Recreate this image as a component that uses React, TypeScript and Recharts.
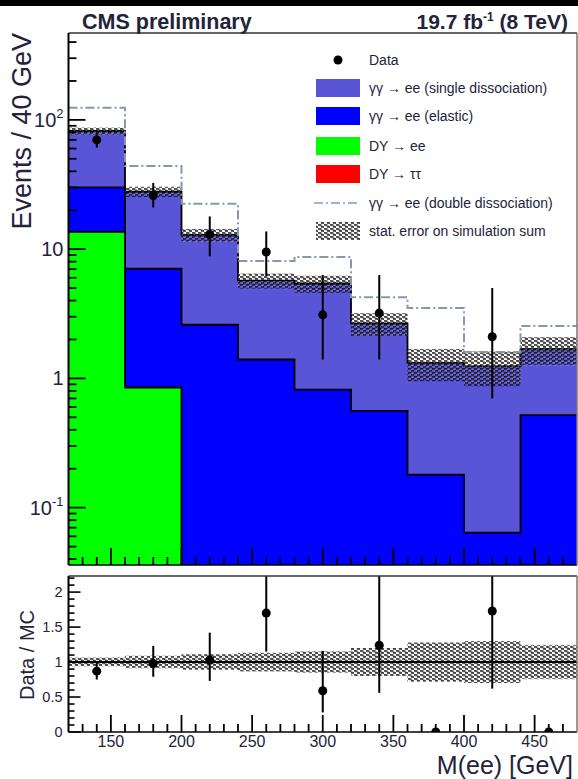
import {
  ComposedChart,
  Area,
  Line,
  Scatter,
  XAxis,
  YAxis,
  ErrorBar,
  ReferenceLine,
} from "recharts";

// bins of 40 GeV in M(ee)
const binEdges = [120, 160, 200, 240, 280, 320, 360, 400, 440, 480];
const binCenters = [140, 180, 220, 260, 300, 340, 380, 420, 460];

// simulated contributions, events / 40 GeV
const dyTauTau = [0, 0, 0, 0, 0, 0, 0, 0, 0];
const dyEE = [13.6, 0.85, 0, 0, 0, 0, 0, 0, 0];
const elastic = [16.4, 6.2, 2.6, 1.4, 0.82, 0.56, 0.18, 0.064, 0.52];
const singleDiss = [52, 20.8, 10.3, 4.3, 4.6, 2.1, 1.14, 1.18, 1.16];
// sum incl. double dissociation (dash-dot line)
const withDoubleDiss = [124, 44, 22.4, 8.1, 8.7, 4.25, 3.5, 1.6, 2.54];
// relative stat. error on simulation sum
const mcStatRel = [0.06, 0.09, 0.11, 0.13, 0.15, 0.2, 0.28, 0.3, 0.24];
const mcStatRelAlt = [0.07, 0.07, 0.12, 0.14, 0.15, 0.2, 0.27, 0.27, 0.25];

// observed data
const dataCounts = [70, 26, 13, 9.5, 3.1, 3.2, 0, 2.1, 0];
const dataErrDown = [9, 5, 4.2, 3.3, 1.7, 1.8, 0, 1.4, 0];
const dataErrUp = [9, 6.5, 4.9, 4.2, 3.2, 3.1, 0, 2.9, 0];

// data / MC (upper errors only as far as the frame shows them)
const ratio = [0.87, 0.98, 1.03, 1.7, 0.59, 1.24, 0, 1.73, 0];
const ratioErrDown = [0.12, 0.19, 0.3, 0.55, 0.31, 0.68, 0, 1.11, 0];
const ratioErrUp = [0.14, 0.25, 0.39, 0.53, 0.57, 0.99, 0, 0.5, 0];

// axis ticks
const xTicks = [130, 140, 150, 160, 170, 180, 190, 200, 210, 220, 230, 240, 250, 260, 270, 280, 290, 300, 310, 320, 330, 340, 350, 360, 370, 380, 390, 400, 410, 420, 430, 440, 450, 460, 470];
const yTicksLog = [0.04, 0.05, 0.06, 0.07, 0.08, 0.09, 0.1, 0.2, 0.3, 0.4, 0.5, 0.6, 0.7, 0.8, 0.9, 1, 2, 3, 4, 5, 6, 7, 8, 9, 10, 20, 30, 40, 50, 60, 70, 80, 90, 100, 200, 300, 400];
const yMajorLog = [0.1, 1, 10, 100];
const yTicksRatio = [0, 0.1, 0.2, 0.3, 0.4, 0.5, 0.6, 0.7, 0.8, 0.9, 1, 1.1, 1.2, 1.3, 1.4, 1.5, 1.6, 1.7, 1.8, 1.9, 2, 2.1, 2.2];
const yMajorRatio = [0, 0.5, 1, 1.5, 2];

const X_DOMAIN = [120, 480];
const LOG_DOMAIN = [0.036, 470];
const RATIO_DOMAIN = [0, 2.23];

const FONT = '"Liberation Sans", Arial, Helvetica, sans-serif';
const TXT = "#23233a";
const PURPLE = "#5a54d6";
const DD_LINE = "#8797b0";
const EMPTY = 1e-4; // empty bin (log axis cannot show 0)

const histRows = binEdges.map((x, k) => {
  const i = Math.min(k, binCenters.length - 1);
  const tt = dyTauTau[i];
  const ee = tt + dyEE[i];
  const el = ee + elastic[i];
  const tot = el + singleDiss[i];
  return {
    x,
    red: tt > 0 ? tt : EMPTY,
    green: ee > 0 ? ee : EMPTY,
    blue: el,
    total: tot,
    dd: withDoubleDiss[i],
    band: [tot * (1 - mcStatRel[i]), tot * (1 + mcStatRel[i])],
    bandAlt: [tot * (1 - mcStatRelAlt[i]), tot * (1 + mcStatRelAlt[i])],
    rBand: [1 - mcStatRel[i], 1 + mcStatRel[i]],
    rBandAlt: [1 - mcStatRelAlt[i], 1 + mcStatRelAlt[i]],
  };
});

const dataPoints = binCenters
  .map((x, i) => ({ x, y: dataCounts[i], err: [dataErrDown[i], dataErrUp[i]] }))
  .filter((p) => p.y > 0);

const ratioPoints = binCenters.map((x, i) => ({
  x,
  y: ratio[i],
  err: [ratioErrDown[i], ratioErrUp[i]],
}));

function XTick(props: any) {
  const { x, y, payload, showLabel } = props;
  const v = payload.value;
  const major = v % 50 === 0;
  return (
    <g>
      <line x1={x} x2={x} y1={y} y2={y - (major ? 17 : 8)} stroke="#000" strokeWidth={1.8} />
      {showLabel && major && (
        <text x={x} y={y + 15} textAnchor="middle" fontSize={16} fill={TXT} fontFamily={FONT}>
          {v}
        </text>
      )}
    </g>
  );
}

function LogYTick(props: any) {
  const { x, y, payload } = props;
  const v = payload.value;
  const major = yMajorLog.includes(v);
  let label: any = null;
  if (v === 100)
    label = (
      <>
        10<tspan dy={-9} fontSize={13}>2</tspan>
      </>
    );
  else if (v === 10) label = "10";
  else if (v === 1) label = "1";
  else if (v === 0.1)
    label = (
      <>
        10<tspan dy={-9} fontSize={13}>-1</tspan>
      </>
    );
  return (
    <g>
      <line x1={x} x2={x + (major ? 17 : 8)} y1={y} y2={y} stroke="#000" strokeWidth={1.8} />
      {major && (
        <text x={x - 5} y={y + 7} textAnchor="end" fontSize={20} fill={TXT} fontFamily={FONT}>
          {label}
        </text>
      )}
    </g>
  );
}

function RatioYTick(props: any) {
  const { x, y, payload } = props;
  const v = payload.value;
  const major = yMajorRatio.includes(v);
  return (
    <g>
      <line x1={x} x2={x + (major ? 12 : 6)} y1={y} y2={y} stroke="#000" strokeWidth={1.6} />
      {major && (
        <text x={x - 6} y={y + 5} textAnchor="end" fontSize={14.5} fill={TXT} fontFamily={FONT}>
          {v}
        </text>
      )}
    </g>
  );
}

function Hatches({ prefix }: { prefix: string }) {
  return (
    <defs>
      <pattern id={`${prefix}-black`} width="6" height="4" patternUnits="userSpaceOnUse">
        <rect x="0" y="0.3" width="3.4" height="1.3" fill="#000" />
        <rect x="3" y="2.3" width="3.4" height="1.3" fill="#000" />
      </pattern>
      <pattern id={`${prefix}-gray`} width="6" height="4" patternUnits="userSpaceOnUse">
        <rect x="1.5" y="1.3" width="3.4" height="1.2" fill="#a8a8a8" />
        <rect x="4.5" y="3.3" width="3.4" height="1.2" fill="#a8a8a8" />
      </pattern>
    </defs>
  );
}

const legendRows = [
  { kind: "box", color: PURPLE, label: "γγ → ee (single dissociation)", y: 88 },
  { kind: "box", color: "#0000ff", label: "γγ → ee (elastic)", y: 116 },
  { kind: "box", color: "#00ff00", label: "DY → ee", y: 146 },
  { kind: "box", color: "#ff0000", label: "DY → ττ", y: 174 },
  { kind: "line", color: "#9fb2de", label: "γγ → ee (double dissociation)", y: 203 },
  { kind: "hatch", color: "", label: "stat. error on simulation sum", y: 231 },
];

// frame + ticks, drawn in a transparent chart laid over the histograms (ROOT draws axes on top)
function frameAxes(yTicks: number[], yDomain: number[], logScale: boolean, YTickComp: any, showXLabels: boolean) {
  return [
    <XAxis
      key="xb"
      dataKey="x"
      type="number"
      domain={X_DOMAIN}
      allowDataOverflow
      ticks={xTicks}
      interval={0}
      height={1}
      tickSize={0}
      tickMargin={0}
      tickLine={false}
      tick={<XTick showLabel={showXLabels} />}
      axisLine={{ stroke: "#000", strokeWidth: 1.6 }}
    />,
    <XAxis key="xt" xAxisId="top" orientation="top" type="number" domain={X_DOMAIN} height={1} tick={false} tickLine={false} axisLine={{ stroke: "#333", strokeWidth: 1.6 }} />,
    <YAxis
      key="yl"
      type="number"
      scale={logScale ? "log" : "auto"}
      domain={yDomain}
      allowDataOverflow
      ticks={yTicks}
      interval={0}
      width={1}
      tickSize={0}
      tickMargin={0}
      tickLine={false}
      tick={<YTickComp />}
      axisLine={{ stroke: "#000", strokeWidth: 2 }}
    />,
    <YAxis key="yr" yAxisId="right" orientation="right" type="number" domain={[0, 1]} width={1} tick={false} tickLine={false} axisLine={{ stroke: "#777", strokeWidth: 1.5 }} />,
  ];
}

const layer = (top: number, z: number) => ({ position: "absolute" as const, left: 0, top, zIndex: z });

export default function App() {
  return (
    <div
      style={{
        position: "fixed",
        left: 0,
        top: 0,
        width: 578,
        height: 779,
        overflow: "hidden",
        background: "#fff",
        fontFamily: FONT,
      }}
    >
      {/* upper panel: stacked histograms */}
      <div style={layer(0, 1)}>
        <ComposedChart width={590} height={570} data={histRows} margin={{ top: 33, right: 13, bottom: 5, left: 68.5 }}>
          <Hatches prefix="up" />
          <Area type="stepAfter" dataKey="total" baseValue="dataMin" fill={PURPLE} fillOpacity={1} stroke="#000" strokeWidth={1.8} dot={false} activeDot={false} isAnimationActive={false} />
          <Area type="stepAfter" dataKey="blue" baseValue="dataMin" fill="#0000ff" fillOpacity={1} stroke="#000" strokeWidth={1.8} dot={false} activeDot={false} isAnimationActive={false} />
          <Area type="stepAfter" dataKey="green" baseValue="dataMin" fill="#00ff00" fillOpacity={1} stroke="#000" strokeWidth={1.8} dot={false} activeDot={false} isAnimationActive={false} />
          <Area type="stepAfter" dataKey="red" baseValue="dataMin" fill="#ff0000" fillOpacity={1} stroke="#000" strokeWidth={1.8} dot={false} activeDot={false} isAnimationActive={false} />
          <Area type="stepAfter" dataKey="bandAlt" fill="url(#up-gray)" fillOpacity={1} stroke="none" dot={false} activeDot={false} isAnimationActive={false} />
          <Area type="stepAfter" dataKey="band" fill="url(#up-black)" fillOpacity={1} stroke="none" dot={false} activeDot={false} isAnimationActive={false} />
          <Line type="stepAfter" dataKey="dd" stroke={DD_LINE} strokeWidth={2} strokeDasharray="9 3 2 3" dot={false} activeDot={false} isAnimationActive={false} />
          <Scatter data={dataPoints} dataKey="y" fill="#000" isAnimationActive={false}>
            <ErrorBar dataKey="err" direction="y" width={0} stroke="#000" strokeWidth={2} />
          </Scatter>
          <XAxis dataKey="x" type="number" domain={X_DOMAIN} allowDataOverflow hide />
          <YAxis type="number" scale="log" domain={LOG_DOMAIN} allowDataOverflow hide />
        </ComposedChart>
      </div>
      <div style={layer(0, 2)}>
        <ComposedChart width={590} height={570} data={histRows} margin={{ top: 32, right: 12, bottom: 4, left: 67.5 }}>
          {frameAxes(yTicksLog, LOG_DOMAIN, true, LogYTick, false)}
        </ComposedChart>
      </div>

      {/* lower panel: data / MC */}
      <div style={layer(570, 1)}>
        <ComposedChart width={590} height={209} data={histRows} margin={{ top: 6, right: 13, bottom: 47, left: 68.5 }}>
          <Hatches prefix="lo" />
          <Area type="stepAfter" dataKey="rBandAlt" fill="url(#lo-gray)" fillOpacity={1} stroke="none" dot={false} activeDot={false} isAnimationActive={false} />
          <Area type="stepAfter" dataKey="rBand" fill="url(#lo-black)" fillOpacity={1} stroke="none" dot={false} activeDot={false} isAnimationActive={false} />
          <ReferenceLine y={1} stroke="#000" strokeWidth={2} />
          <Scatter data={ratioPoints} dataKey="y" fill="#000" isAnimationActive={false}>
            <ErrorBar dataKey="err" direction="y" width={0} stroke="#000" strokeWidth={2} />
          </Scatter>
          <XAxis dataKey="x" type="number" domain={X_DOMAIN} allowDataOverflow hide />
          <YAxis type="number" domain={RATIO_DOMAIN} allowDataOverflow hide />
        </ComposedChart>
      </div>
      <div style={layer(570, 2)}>
        <ComposedChart width={590} height={209} data={histRows} margin={{ top: 5, right: 12, bottom: 46, left: 67.5 }}>
          {frameAxes(yTicksRatio, RATIO_DOMAIN, false, RatioYTick, true)}
        </ComposedChart>
      </div>

      <svg
        width={578}
        height={779}
        style={{ position: "absolute", left: 0, top: 0, zIndex: 3, pointerEvents: "none" }}
        fontFamily={FONT}
      >
        <Hatches prefix="lg" />
        <rect x={0} y={0} width={578} height={6} fill="#000" />
        <text x={82} y={29} fontSize={21.5} fontWeight="bold" fill={TXT}>
          CMS preliminary
        </text>
        <text x={568} y={29} fontSize={21} fontWeight="bold" fill={TXT} textAnchor="end">
          19.7 fb<tspan dy={-8} fontSize={12}>-1</tspan>
          <tspan dy={8}> (8 TeV)</tspan>
        </text>
        <text transform="translate(31,33) rotate(-90)" textAnchor="end" fontSize={27} fill={TXT}>
          Events / 40 GeV
        </text>
        <text transform="translate(34,655) rotate(-90)" textAnchor="middle" fontSize={20} fill={TXT}>
          Data / MC
        </text>
        <text x={573} y={774} textAnchor="end" fontSize={25} fill={TXT}>
          M(ee) [GeV]
        </text>

        <circle cx={338} cy={60} r={4.5} fill="#000" />
        <text x={369} y={65} fontSize={14} fill={TXT}>
          Data
        </text>
        {legendRows.map((r) => (
          <g key={r.label}>
            {r.kind === "box" && <rect x={316} y={r.y - 9} width={44} height={18} fill={r.color} />}
            {r.kind === "line" && (
              <line x1={314} x2={358} y1={r.y} y2={r.y} stroke={r.color} strokeWidth={2} strokeDasharray="9 3 2 3" />
            )}
            {r.kind === "hatch" && (
              <>
                <rect x={316} y={r.y - 9} width={44} height={18} fill="url(#lg-gray)" />
                <rect x={316} y={r.y - 9} width={44} height={18} fill="url(#lg-black)" />
              </>
            )}
            <text x={369} y={r.y + 5} fontSize={14} fill={TXT}>
              {r.label}
            </text>
          </g>
        ))}
      </svg>
    </div>
  );
}
